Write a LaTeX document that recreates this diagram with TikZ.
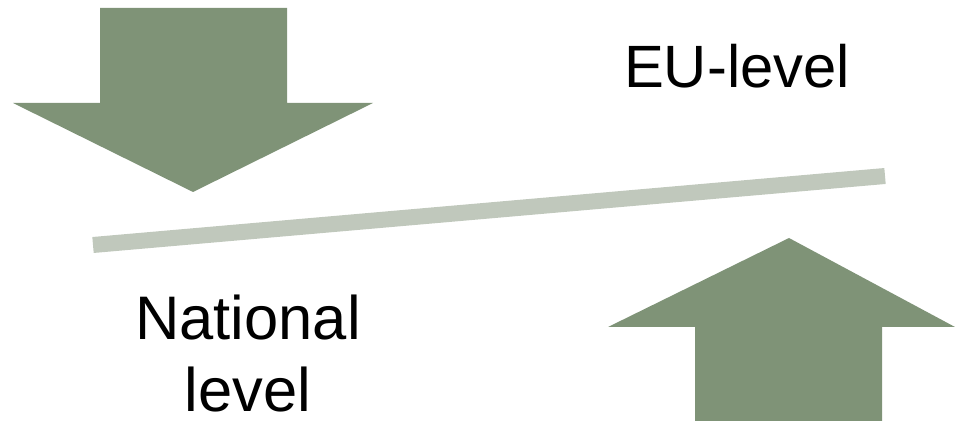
\documentclass[tikz,border=0pt]{standalone}
\usepackage{fontspec}
\setmainfont{Liberation Sans}
\definecolor{arrowgreen}{HTML}{7F9377}
\definecolor{bargrey}{HTML}{C0C8BC}
\tikzset{
  levelarrow/.style={fill=arrowgreen, draw=none},
  levellabel/.style={font=\fontsize{34}{41.5}\selectfont, inner sep=0pt, align=center},
}
\begin{document}
\begin{tikzpicture}[x=0.02cm, y=-0.02cm]
\useasboundingbox (0,0) rectangle (955,421);

% arrow down from the top left, arrow up from the bottom right
\fill[levelarrow] (100,8) -- (287,8) -- (287,103) -- (373,103) -- (193,192) -- (13,103) -- (100,103) -- cycle;
\fill[levelarrow] (789,238) -- (955,327) -- (882,327) -- (882,421) -- (695,421) -- (695,327) -- (608,327) -- cycle;

% the dividing bar
\coordinate (barleft) at (93,245);
\coordinate (barright) at (885,176);
\draw[bargrey, line width=0.32cm] (barleft) -- (barright);

\node [levellabel, anchor=base] (eu) at (737,88) {EU-level};
\node [levellabel, font=\fontsize{35}{41.5}\selectfont, anchor=base] (national) at (248,412) {National\\level};

\end{tikzpicture}
\end{document}
